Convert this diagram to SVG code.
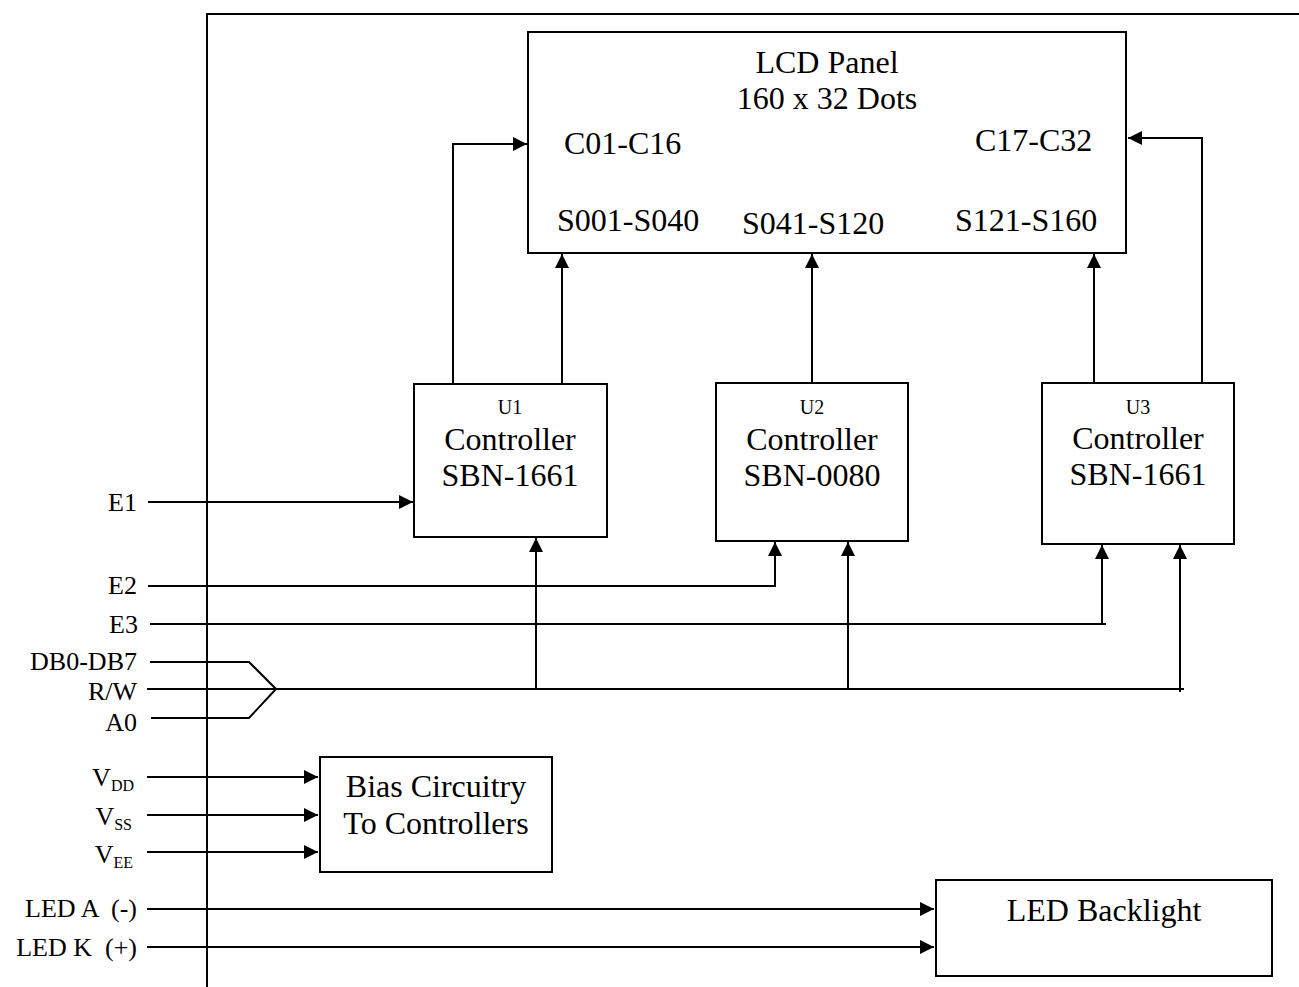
<svg xmlns="http://www.w3.org/2000/svg" width="1299" height="987" viewBox="0 0 1299 987">
<style>
text{font-family:"Liberation Serif","Times New Roman",serif;fill:#000}
.big{font-size:32px}
.lbl{font-size:26px}
.sm{font-size:20px}
.box{fill:#fff;stroke:#000;stroke-width:2}
.w{fill:none;stroke:#000;stroke-width:2}
.a{fill:none;stroke:#000;stroke-width:2;marker-end:url(#ah)}
</style>
<defs>
<marker id="ah" markerUnits="userSpaceOnUse" markerWidth="15" markerHeight="14" refX="14" refY="7" orient="auto">
<path d="M0,0 L14,7 L0,14 z" fill="#000"/>
</marker>
</defs>
<g id="frame">
<path class="w" d="M206,14 H1299 M207,14 V987"/>
</g>
<g id="connectors">
<path class="a" d="M453,383 V144 H527"/>
<path class="a" d="M1202,383 V138 H1128"/>
<path class="a" d="M562,383 V254"/>
<path class="a" d="M812,383 V254"/>
<path class="a" d="M1094,383 V254"/>
<path class="a" d="M148,502 H413"/>
<path class="a" d="M148,586 H775 V542"/>
<path class="a" d="M150,624 H1106 M1102,624 V545"/>
<path class="w" d="M150,662 H249 L276,689 M151,718 H249 L276,689 M147,689 H1184"/>
<path class="a" d="M536,689 V538"/>
<path class="a" d="M848,689 V542"/>
<path class="a" d="M1180,692 V545"/>
<path class="a" d="M147,777 H318"/>
<path class="a" d="M147,815 H318"/>
<path class="a" d="M147,852 H318"/>
<path class="a" d="M147,909 H934"/>
<path class="a" d="M147,947 H934"/>
</g>
<g id="lcd">
<rect class="box" x="528" y="32" width="598" height="221"/>
<text class="big" x="827" y="73" text-anchor="middle">LCD Panel</text>
<text class="big" x="827" y="109" text-anchor="middle">160 x 32 Dots</text>
<text class="big" x="564" y="154">C01-C16</text>
<text class="big" x="975" y="151">C17-C32</text>
<text class="big" x="557" y="231">S001-S040</text>
<text class="big" x="742" y="234">S041-S120</text>
<text class="big" x="955" y="231">S121-S160</text>
</g>
<g id="u1">
<rect class="box" x="414" y="384" width="193" height="153"/>
<text class="sm" x="510" y="414" text-anchor="middle">U1</text>
<text class="big" x="510" y="450" text-anchor="middle">Controller</text>
<text class="big" x="510" y="486" text-anchor="middle">SBN-1661</text>
</g>
<g id="u2">
<rect class="box" x="716" y="383" width="192" height="158"/>
<text class="sm" x="812" y="414" text-anchor="middle">U2</text>
<text class="big" x="812" y="450" text-anchor="middle">Controller</text>
<text class="big" x="812" y="486" text-anchor="middle">SBN-0080</text>
</g>
<g id="u3">
<rect class="box" x="1042" y="383" width="192" height="161"/>
<text class="sm" x="1138" y="414" text-anchor="middle">U3</text>
<text class="big" x="1138" y="449" text-anchor="middle">Controller</text>
<text class="big" x="1138" y="485" text-anchor="middle">SBN-1661</text>
</g>
<g id="bias">
<rect class="box" x="320" y="757" width="232" height="115"/>
<text class="big" x="436" y="797" text-anchor="middle">Bias Circuitry</text>
<text class="big" x="436" y="834" text-anchor="middle">To Controllers</text>
</g>
<g id="backlight">
<rect class="box" x="936" y="880" width="336" height="96"/>
<text class="big" x="1104" y="921" text-anchor="middle">LED Backlight</text>
</g>
<g id="labels">
<text class="lbl" x="137" y="511" text-anchor="end">E1</text>
<text class="lbl" x="137" y="594" text-anchor="end">E2</text>
<text class="lbl" x="138" y="633" text-anchor="end">E3</text>
<text class="lbl" x="137" y="670" text-anchor="end">DB0-DB7</text>
<text class="lbl" x="137" y="700" text-anchor="end">R/W</text>
<text class="lbl" x="137" y="731" text-anchor="end">A0</text>
<text class="lbl" x="134" y="786" text-anchor="end">V<tspan font-size="16" dy="5">DD</tspan></text>
<text class="lbl" x="132" y="825" text-anchor="end">V<tspan font-size="16" dy="5">SS</tspan></text>
<text class="lbl" x="133" y="863" text-anchor="end">V<tspan font-size="16" dy="5">EE</tspan></text>
<text class="lbl" x="137" y="917" text-anchor="end" xml:space="preserve">LED A  (-)</text>
<text class="lbl" x="137" y="956" text-anchor="end" xml:space="preserve">LED K  (+)</text>
</g>
</svg>
